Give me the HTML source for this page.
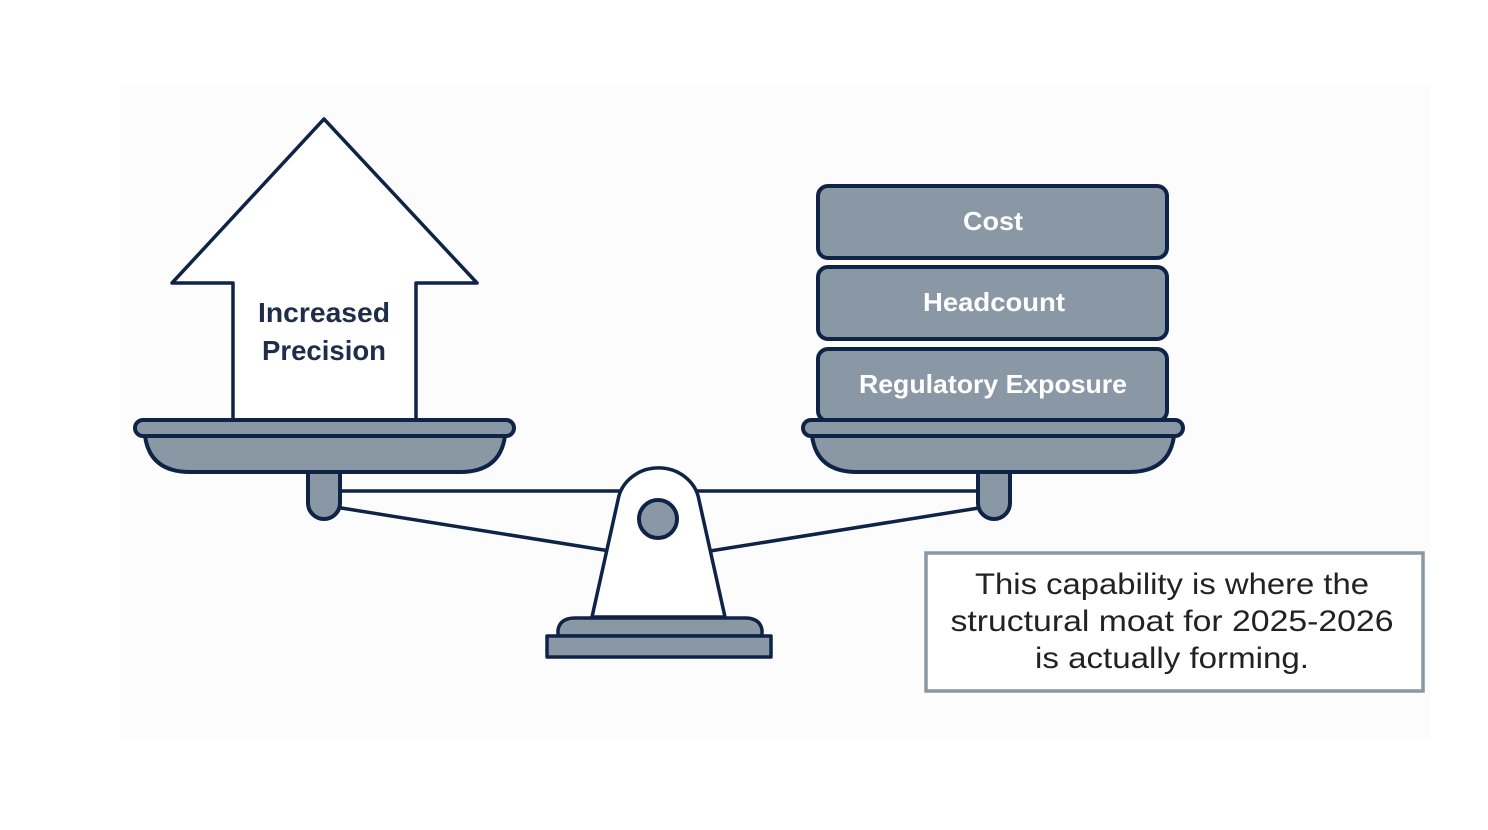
<!DOCTYPE html>
<html><head><meta charset="utf-8"><style>
html,body{margin:0;padding:0;background:#fff;}
svg{display:block;}
</style></head><body>
<svg width="1488" height="830" viewBox="0 0 1488 830" xmlns="http://www.w3.org/2000/svg">
<rect x="120" y="85" width="1310" height="655" fill="#fcfcfd"/>
<g stroke="#0f2347" stroke-width="4" stroke-linejoin="round" fill="#8a97a4">
<path d="M324 119 L477 283 L416 283 L416 420 L233 420 L233 283 L172 283 Z" fill="#fff" stroke-width="3.5"/>
<line x1="335" y1="491" x2="985" y2="491" stroke-width="3.5"/>
<line x1="335" y1="507" x2="610" y2="551" stroke-width="3.5"/>
<line x1="985" y1="507" x2="710" y2="551" stroke-width="3.5"/>
<path d="M308 468 L340 468 L340 503 A16 16 0 0 1 308 503 Z"/>
<path d="M978 468 L1010 468 L1010 503 A16 16 0 0 1 978 503 Z"/>
<path d="M145 436 L505 436 Q500 472 460 472 L190 472 Q150 472 145 436 Z"/>
<rect x="135" y="420" width="379" height="16" rx="8"/>
<path d="M812 436 L1174 436 Q1169 472 1129 472 L857 472 Q817 472 812 436 Z"/>
<rect x="818" y="186" width="349" height="72" rx="10"/>
<rect x="818" y="267" width="349" height="72" rx="10"/>
<rect x="818" y="349" width="349" height="72" rx="10"/>
<rect x="803" y="420" width="380" height="16" rx="8"/>
<path d="M592 617 L618 500 A41 38 0 0 1 699 500 L725 617 Z" fill="#fff" stroke-width="3.5"/>
<circle cx="658" cy="519" r="19"/>
<path d="M558 636 L558 630 Q560 618 575 618 L745 618 Q760 618 762 630 L762 636 Z" stroke-width="3.5"/>
<rect x="547" y="636" width="224" height="21" stroke-width="3.5"/>
</g>
<g font-family="Liberation Sans, sans-serif" text-anchor="middle" font-weight="bold">
<text x="324" y="322" font-size="28" fill="#1f2d4a" textLength="132" lengthAdjust="spacingAndGlyphs">Increased</text>
<text x="324" y="360" font-size="28" fill="#1f2d4a" textLength="124" lengthAdjust="spacingAndGlyphs">Precision</text>
<text x="993" y="230" font-size="26" fill="#fff" textLength="60" lengthAdjust="spacingAndGlyphs">Cost</text>
<text x="994" y="311" font-size="26" fill="#fff" textLength="142" lengthAdjust="spacingAndGlyphs">Headcount</text>
<text x="993" y="393" font-size="26" fill="#fff" textLength="268" lengthAdjust="spacingAndGlyphs">Regulatory Exposure</text>
</g>
<rect x="926" y="553" width="497" height="138" fill="#fff" stroke="#8a97a4" stroke-width="3.5"/>
<g font-family="Liberation Sans, sans-serif" text-anchor="middle" font-size="30" fill="#222">
<text x="1172" y="594" textLength="394" lengthAdjust="spacingAndGlyphs">This capability is where the</text>
<text x="1172" y="631" textLength="443" lengthAdjust="spacingAndGlyphs">structural moat for 2025-2026</text>
<text x="1172" y="668" textLength="274" lengthAdjust="spacingAndGlyphs">is actually forming.</text>
</g>
</svg>
</body></html>
